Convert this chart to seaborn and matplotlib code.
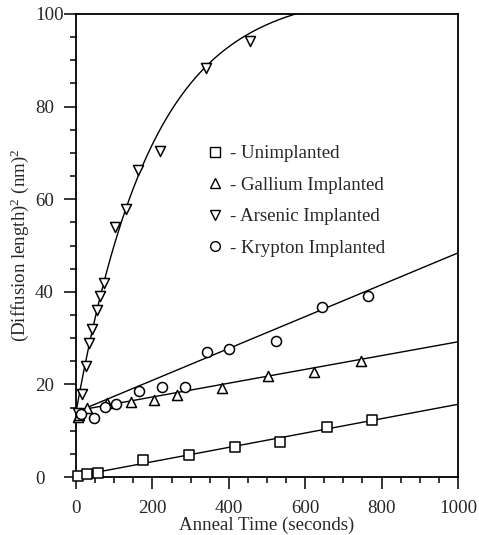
import numpy as np
import pandas as pd
import matplotlib
matplotlib.use("Agg")
import matplotlib.pyplot as plt
from matplotlib.lines import Line2D
from matplotlib.ticker import MultipleLocator
import seaborn as sns

# Measured (diffusion length)^2 in nm^2 versus anneal time in seconds
unimp_t = [6, 28, 57, 176, 295, 416, 534, 656, 776]
unimp_d = [0.2, 0.6, 0.8, 3.6, 4.8, 6.5, 7.6, 10.9, 12.3]

ga_t = [5, 9, 28, 82, 145, 205, 264, 382, 503, 624, 745]
ga_d = [13.0, 13.4, 15.0, 15.9, 16.2, 16.6, 17.8, 19.3, 21.9, 22.6, 25.1]

as_t = [6, 16, 27, 35, 42, 55, 64, 74, 103, 132, 163, 221, 340, 455]
as_d = [13.8, 18.0, 24.0, 29.0, 32.0, 36.0, 39.0, 41.8, 54.0, 57.8, 66.2, 70.4, 88.3, 94.2]

kr_t = [12, 47, 77, 105, 166, 225, 286, 344, 401, 523, 644, 765]
kr_d = [13.6, 12.7, 15.2, 15.7, 18.5, 19.5, 19.5, 27.1, 27.6, 29.4, 36.8, 39.2]

# Fitted lines: intercept and slope (nm^2, nm^2/s)
unimp_fit = (0.2, 0.0155)
ga_fit = (14.3, 0.0149)
kr_fit = (14.0, 0.0344)
# Saturating fit for arsenic: d = a - (a - b) * exp(-t / tau)
as_fit = (105.0, 14.0, 198.0)

series_names = ["Unimplanted", "Gallium Implanted", "Arsenic Implanted", "Krypton Implanted"]
markers = ["s", "^", "v", "o"]

sns.set_style("ticks")
plt.rcParams["font.family"] = ["Liberation Serif", "DejaVu Serif"]
plt.rcParams["mathtext.fontset"] = "custom"
plt.rcParams["mathtext.rm"] = "Liberation Serif"
plt.rcParams["mathtext.it"] = "Liberation Serif:italic"

FS = 13.6

fig = plt.figure(figsize=(4.79, 5.35), dpi=100)
ax = fig.add_axes([76 / 479, 58 / 535, 382 / 479, 463 / 535])

frames = []
for name, t, d in [(series_names[0], unimp_t, unimp_d),
                   (series_names[1], ga_t, ga_d),
                   (series_names[2], as_t, as_d),
                   (series_names[3], kr_t, kr_d)]:
    frames.append(pd.DataFrame({"time": t, "d2": d, "sample": name}))
points = pd.concat(frames, ignore_index=True)

# Fit curves
tt = np.linspace(0, 1000, 400)
fits = []
for name, (b, m) in [(series_names[0], unimp_fit), (series_names[1], ga_fit),
                     (series_names[3], kr_fit)]:
    fits.append(pd.DataFrame({"time": tt, "d2": b + m * tt, "sample": name}))
a, b0, tau = as_fit
fits.append(pd.DataFrame({"time": tt, "d2": a - (a - b0) * np.exp(-tt / tau),
                          "sample": series_names[2]}))
fit_df = pd.concat(fits, ignore_index=True)

sns.lineplot(data=fit_df, x="time", y="d2", units="sample", estimator=None,
             color="black", linewidth=1.0, ax=ax, legend=False)

for name, mk in zip(series_names, markers):
    sub = points[points["sample"] == name]
    sns.scatterplot(data=sub, x="time", y="d2", marker=mk, s=52,
                    facecolor="white", edgecolor="black", linewidth=1.1,
                    ax=ax, legend=False, zorder=3, clip_on=False)

ax.set_xlim(0, 1000)
ax.set_ylim(0, 100)
ax.xaxis.set_major_locator(MultipleLocator(200))
ax.xaxis.set_minor_locator(MultipleLocator(50))
ax.yaxis.set_major_locator(MultipleLocator(20))
ax.yaxis.set_minor_locator(MultipleLocator(5))

for sp in ax.spines.values():
    sp.set_linewidth(1.3)
    sp.set_color("black")

ax.tick_params(axis="both", which="major", direction="out", length=8.3, width=1.1,
               labelsize=FS, color="black")
ax.tick_params(axis="both", which="minor", direction="out", length=4.5, width=1.1,
               color="black")
ax.tick_params(axis="y", which="major", pad=21.2)
ax.tick_params(axis="x", which="major", pad=8.5)
for lbl in ax.get_yticklabels():
    lbl.set_horizontalalignment("left")

ax.set_xlabel("Anneal Time (seconds)", fontsize=FS, labelpad=-0.5)
ax.set_ylabel(r"(Diffusion length)$^2$ (nm)$^2$", fontsize=FS, labelpad=3)

handles = [Line2D([], [], linestyle="none", marker=mk, markersize=7,
                  markerfacecolor="white", markeredgecolor="black",
                  markeredgewidth=1.0) for mk in markers]
ax.legend(handles, ["- " + n for n in series_names], loc="upper left",
          bbox_to_anchor=(0.338, 0.717), frameon=False, borderpad=0,
          borderaxespad=0, handlelength=1.0, handletextpad=0.3,
          labelspacing=0.76, fontsize=FS)

fig.savefig("out.png", dpi=100)
